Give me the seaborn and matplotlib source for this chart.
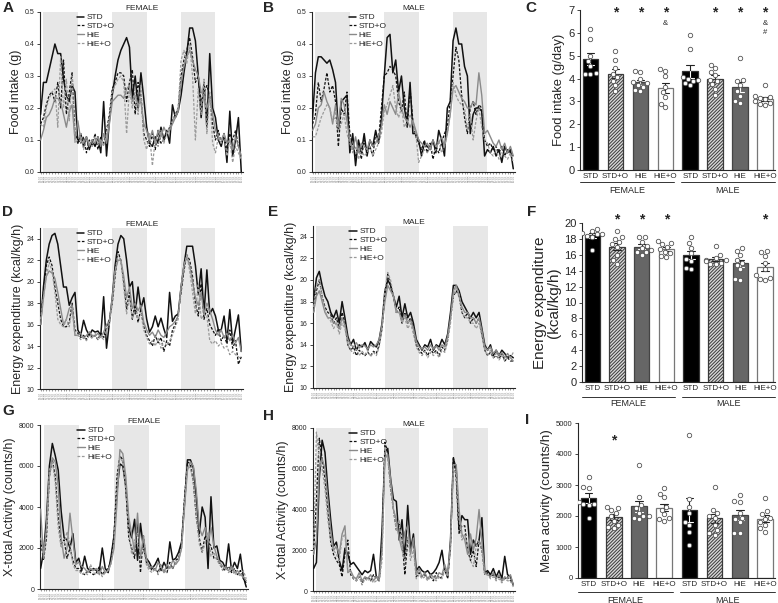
import numpy as np
import pandas as pd
import matplotlib
matplotlib.use("Agg")
import matplotlib.pyplot as plt
import seaborn as sns

# ---------------- data ----------------
groups = ["STD", "STD+O", "HiE", "HiE+O"]
sexes = ["FEMALE", "MALE"]
hours = list(range(71))
hour_labels = [f"{(18 + h) % 24:02d}:00" for h in hours]
dark_phases = [(1, 13), (25, 37), (49, 61)]

# Panel A: female food intake (g)
A_STD = [0.18,
         0.28, 0.28, 0.32, 0.36, 0.40, 0.37, 0.37, 0.29, 0.24, 0.22, 0.27, 0.25,
         0.09, 0.12, 0.08, 0.11, 0.07, 0.10, 0.08, 0.11, 0.06, 0.22, 0.05, 0.16,
         0.24, 0.30, 0.35, 0.38, 0.40, 0.42, 0.39, 0.23, 0.30, 0.20, 0.31, 0.23,
         0.14, 0.09, 0.08, 0.11, 0.09, 0.14, 0.10, 0.13, 0.09, 0.21, 0.17, 0.19,
         0.24, 0.31, 0.37, 0.45, 0.45, 0.41, 0.30, 0.17, 0.28, 0.14, 0.37, 0.20,
         0.17, 0.10, 0.08, 0.12, 0.03, 0.19, 0.05, 0.10, 0.17, 0.00]
A_STDO = [0.15,
          0.17, 0.21, 0.24, 0.25, 0.22, 0.28, 0.20, 0.35, 0.18, 0.25, 0.31, 0.12,
          0.10, 0.09, 0.11, 0.06, 0.10, 0.08, 0.12, 0.07, 0.11, 0.09, 0.13, 0.18,
          0.26, 0.28, 0.31, 0.31, 0.30, 0.22, 0.28, 0.32, 0.18, 0.28, 0.24, 0.12,
          0.10, 0.08, 0.12, 0.07, 0.13, 0.09, 0.10, 0.12, 0.14, 0.16, 0.18, 0.20,
          0.30, 0.35, 0.38, 0.42, 0.36, 0.28, 0.30, 0.22, 0.25, 0.27, 0.24, 0.15,
          0.10, 0.13, 0.09, 0.11, 0.07, 0.12, 0.10, 0.13, 0.08, 0.06]
A_HIE = [0.10,
         0.13, 0.17, 0.18, 0.20, 0.23, 0.23, 0.22, 0.18, 0.14, 0.19, 0.21, 0.10,
         0.16, 0.10, 0.09, 0.11, 0.08, 0.10, 0.09, 0.11, 0.08, 0.12, 0.09, 0.15,
         0.22, 0.23, 0.24, 0.24, 0.23, 0.26, 0.27, 0.22, 0.24, 0.21, 0.22, 0.15,
         0.13, 0.10, 0.13, 0.09, 0.13, 0.11, 0.14, 0.12, 0.13, 0.15, 0.17, 0.19,
         0.28, 0.33, 0.36, 0.38, 0.35, 0.32, 0.30, 0.25, 0.24, 0.20, 0.23, 0.18,
         0.13, 0.11, 0.10, 0.12, 0.09, 0.10, 0.07, 0.11, 0.08, 0.05]
A_HIEO = [0.15,
          0.14, 0.20, 0.23, 0.25, 0.26, 0.14, 0.36, 0.20, 0.29, 0.16, 0.30, 0.09,
          0.10, 0.12, 0.07, 0.10, 0.09, 0.08, 0.11, 0.09, 0.10, 0.08, 0.12, 0.17,
          0.25, 0.27, 0.29, 0.30, 0.28, 0.12, 0.26, 0.20, 0.25, 0.18, 0.27, 0.10,
          0.07, 0.12, 0.02, 0.10, 0.08, 0.13, 0.09, 0.12, 0.14, 0.16, 0.18, 0.20,
          0.35, 0.38, 0.34, 0.40, 0.30, 0.10, 0.26, 0.18, 0.29, 0.12, 0.25, 0.09,
          0.06, 0.11, 0.09, 0.12, 0.05, 0.10, 0.03, 0.08, 0.06, 0.04]

# Panel B: male food intake (g)
B_STD = [0.17,
         0.31, 0.36, 0.36, 0.35, 0.34, 0.35, 0.32, 0.28, 0.13, 0.22, 0.23, 0.24,
         0.06, 0.12, 0.02, 0.10, 0.06, 0.12, 0.05, 0.10, 0.08, 0.13, 0.09, 0.16,
         0.30, 0.42, 0.43, 0.31, 0.35, 0.25, 0.30, 0.20, 0.15, 0.28, 0.12, 0.12,
         0.10, 0.05, 0.09, 0.08, 0.07, 0.10, 0.06, 0.13, 0.10, 0.05, 0.20, 0.22,
         0.41, 0.45, 0.40, 0.40, 0.33, 0.30, 0.12, 0.18, 0.20, 0.20, 0.19, 0.05,
         0.07, 0.06, 0.08, 0.05, 0.07, 0.03, 0.08, 0.06, 0.07, 0.01]
B_STDO = [0.15,
          0.18, 0.28, 0.22, 0.26, 0.31, 0.25, 0.27, 0.22, 0.08, 0.20, 0.18, 0.25,
          0.12, 0.08, 0.05, 0.09, 0.04, 0.10, 0.06, 0.08, 0.05, 0.12, 0.10, 0.20,
          0.30, 0.31, 0.33, 0.32, 0.30, 0.22, 0.19, 0.25, 0.14, 0.26, 0.16, 0.11,
          0.09, 0.07, 0.10, 0.06, 0.09, 0.04, 0.08, 0.06, 0.09, 0.12, 0.14, 0.22,
          0.30, 0.39, 0.35, 0.24, 0.17, 0.12, 0.20, 0.22, 0.18, 0.21, 0.20, 0.10,
          0.08, 0.09, 0.07, 0.08, 0.06, 0.08, 0.05, 0.07, 0.06, 0.05]
B_HIE = [0.13,
         0.15, 0.20, 0.21, 0.25, 0.22, 0.20, 0.15, 0.21, 0.14, 0.23, 0.21, 0.16,
         0.10, 0.07, 0.11, 0.06, 0.09, 0.08, 0.07, 0.10, 0.08, 0.09, 0.11, 0.14,
         0.21, 0.18, 0.22, 0.20, 0.18, 0.25, 0.20, 0.17, 0.16, 0.14, 0.16, 0.13,
         0.10, 0.09, 0.08, 0.09, 0.07, 0.10, 0.08, 0.09, 0.11, 0.08, 0.12, 0.18,
         0.26, 0.27, 0.25, 0.23, 0.22, 0.20, 0.20, 0.22, 0.21, 0.31, 0.24, 0.12,
         0.13, 0.11, 0.09, 0.08, 0.10, 0.07, 0.09, 0.06, 0.08, 0.05]
B_HIEO = [0.11,
          0.11, 0.14, 0.17, 0.19, 0.21, 0.20, 0.16, 0.17, 0.13, 0.15, 0.18, 0.12,
          0.09, 0.06, 0.08, 0.04, 0.07, 0.05, 0.06, 0.08, 0.05, 0.07, 0.09, 0.12,
          0.19, 0.21, 0.24, 0.27, 0.20, 0.17, 0.20, 0.14, 0.16, 0.18, 0.15, 0.12,
          0.03, 0.05, 0.07, 0.06, 0.08, 0.06, 0.07, 0.10, 0.06, 0.08, 0.12, 0.18,
          0.28, 0.24, 0.22, 0.21, 0.20, 0.13, 0.18, 0.10, 0.16, 0.20, 0.14, 0.10,
          0.09, 0.06, 0.05, 0.07, 0.04, 0.06, 0.05, 0.04, 0.06, 0.03]

# Panel D: female energy expenditure (kcal/kg/h)
D_STD = [16.0,
         19.5, 22.0, 23.5, 24.3, 24.5, 23.5, 21.5, 19.5, 19.5, 17.8, 18.5, 19.0,
         15.5, 15.0, 16.4, 15.5, 15.0, 15.5, 15.3, 15.4, 15.0, 18.6, 13.8, 16.2,
         18.5, 21.5, 23.5, 24.3, 24.0, 22.0, 19.5, 20.0, 17.0, 19.5, 17.5, 18.5,
         16.5, 15.3, 15.8, 16.8, 15.8, 16.6, 15.6, 14.8, 19.0, 16.3, 16.8, 17.0,
         19.5, 21.5, 23.3, 23.3, 23.3, 21.5, 18.8, 21.2, 17.0, 21.1, 17.0, 17.5,
         16.8, 15.5, 15.5, 16.8, 14.5, 17.4, 14.3, 15.6, 16.9, 13.5]
D_STDO = [16.5,
          19.0, 21.5, 22.3, 21.5, 19.5, 18.0, 16.5, 15.8, 15.8, 16.2, 18.0, 15.5,
          15.2, 14.8, 15.0, 14.6, 15.3, 14.8, 15.0, 14.6, 15.2, 14.8, 15.8, 16.5,
          18.0, 20.5, 22.8, 22.0, 20.0, 17.5, 19.0, 16.5, 18.0, 16.2, 17.5, 15.8,
          15.0, 14.5, 14.0, 15.0, 14.3, 14.8, 13.5, 14.5, 14.0, 15.5, 16.0, 17.0,
          19.0, 21.0, 22.5, 22.0, 20.5, 18.0, 16.8, 19.8, 16.5, 17.5, 16.0, 15.5,
          15.0, 15.6, 14.5, 15.0, 14.2, 15.5, 13.8, 14.5, 12.3, 13.0]
D_HIE = [16.0,
         18.5, 20.5, 21.0, 20.8, 20.3, 19.0, 17.5, 16.0, 16.5, 17.5, 17.8, 15.0,
         15.0, 15.2, 14.7, 15.0, 15.3, 15.0, 14.9, 15.2, 14.8, 15.3, 16.0, 16.3,
         18.5, 21.0, 22.0, 22.0, 20.5, 18.5, 19.5, 17.5, 18.0, 17.3, 17.8, 16.2,
         15.5, 15.0, 15.3, 14.8, 15.5, 15.0, 14.8, 15.3, 15.8, 16.0, 16.3, 16.8,
         19.5, 21.5, 22.3, 21.5, 20.0, 18.5, 17.8, 19.0, 17.0, 18.0, 17.3, 16.5,
         15.5, 15.0, 15.5, 14.8, 15.2, 14.5, 15.0, 14.3, 14.8, 13.5]
D_HIEO = [16.5,
          18.5, 20.5, 21.8, 21.0, 19.0, 16.5, 16.0, 15.8, 16.5, 15.8, 17.5, 15.0,
          15.0, 14.6, 14.8, 14.5, 15.0, 14.7, 15.2, 14.6, 14.9, 14.6, 15.5, 16.0,
          18.0, 21.0, 22.5, 22.0, 19.5, 17.0, 18.5, 16.5, 17.5, 16.5, 17.0, 15.5,
          14.8, 14.2, 14.5, 14.0, 14.8, 13.8, 14.5, 14.0, 14.5, 15.0, 15.8, 16.5,
          19.5, 21.5, 22.5, 21.0, 19.0, 17.0, 19.8, 16.5, 17.0, 16.8, 14.5, 14.2,
          14.5, 14.0, 14.3, 13.8, 14.0, 13.2, 13.5, 13.2, 13.0, 12.8]

# Panel E: male energy expenditure (kcal/kg/h)
E_STD = [18.0,
         20.2, 20.8, 19.5, 18.5, 18.0, 17.0, 16.5, 17.2, 16.0, 18.0, 16.5, 14.8,
         14.0, 14.5, 13.5, 14.0, 13.8, 14.2, 13.5, 14.3, 14.0, 13.8, 14.5, 16.0,
         19.0, 20.0, 19.5, 18.5, 17.5, 18.5, 16.5, 17.8, 16.5, 17.0, 16.0, 14.5,
         14.0, 13.5, 14.0, 13.8, 14.5, 13.5, 14.0, 13.8, 14.5, 14.0, 15.0, 17.0,
         19.5, 19.5, 19.0, 18.0, 17.5, 17.0, 16.5, 17.0, 16.5, 17.0, 15.5, 14.0,
         13.5, 14.0, 13.0, 13.5, 13.0, 13.5, 13.2, 12.8, 13.0, 12.8]
E_STDO = [17.0,
          19.0, 20.0, 18.5, 17.5, 17.0, 16.8, 16.0, 16.5, 15.5, 17.0, 16.0, 14.0,
          13.5, 13.8, 13.0, 13.5, 13.2, 13.0, 13.3, 13.0, 13.4, 13.2, 14.0, 15.5,
          18.5, 20.5, 19.5, 18.5, 17.0, 17.5, 16.0, 17.0, 16.0, 16.5, 15.5, 14.0,
          13.5, 13.2, 13.5, 13.0, 13.6, 13.2, 13.5, 13.0, 13.8, 13.5, 14.5, 16.5,
          18.5, 19.0, 18.5, 17.0, 16.5, 17.0, 16.0, 16.5, 16.0, 16.5, 15.0, 13.5,
          13.0, 13.3, 12.8, 13.0, 12.7, 13.2, 12.5, 12.8, 12.5, 12.5]
E_HIE = [17.0,
         18.5, 19.0, 18.0, 17.0, 16.5, 16.5, 16.0, 16.0, 15.5, 16.5, 15.8, 14.5,
         14.0, 13.8, 14.2, 13.7, 14.0, 13.9, 13.6, 14.0, 13.8, 14.0, 14.5, 15.8,
         18.0, 19.5, 19.0, 18.5, 17.0, 17.0, 16.3, 16.8, 16.0, 16.3, 15.5, 14.3,
         13.8, 13.6, 13.8, 13.5, 14.0, 13.6, 13.9, 13.5, 14.0, 13.8, 14.8, 16.5,
         19.0, 19.5, 18.5, 17.5, 17.0, 17.0, 16.5, 16.5, 16.0, 16.5, 15.3, 13.8,
         13.5, 13.8, 13.2, 13.5, 13.0, 13.3, 12.8, 13.2, 12.8, 12.5]
E_HIEO = [17.5,
          19.5, 20.0, 18.5, 17.2, 16.5, 16.2, 15.5, 16.0, 15.0, 16.0, 15.5, 14.0,
          13.5, 13.2, 13.6, 13.0, 13.4, 13.1, 13.5, 12.9, 13.3, 13.0, 13.8, 15.5,
          19.0, 20.7, 20.0, 18.5, 17.0, 17.0, 16.0, 16.5, 15.5, 16.0, 15.0, 13.8,
          13.3, 13.0, 13.4, 12.8, 13.3, 13.0, 13.3, 12.8, 13.5, 13.3, 14.3, 16.0,
          18.5, 19.3, 18.8, 17.0, 16.5, 16.5, 16.0, 16.0, 15.5, 16.0, 14.8, 13.5,
          13.0, 13.5, 12.8, 13.2, 12.6, 13.0, 12.5, 12.8, 12.8, 13.3]

# Panel G: female X-total activity (counts/h)
G_STD = [1000,
         1800, 3400, 6000, 7100, 6500, 5800, 3800, 2500, 2400, 2000, 2700, 1300,
         1500, 900, 1600, 1000, 900, 1000, 900, 900, 2000, 1000, 800, 1600,
         2600, 4800, 6100, 6000, 5000, 3000, 2500, 3400, 1400, 3200, 2000, 1500,
         1300, 1000, 1200, 1500, 900, 1300, 1000, 2300, 1400, 1500, 1800, 2300,
         4200, 6300, 6300, 5900, 4500, 2700, 4000, 3500, 1000, 4500, 2000, 2100,
         1400, 1300, 1000, 2200, 900, 1300, 1000, 1700, 600, 100]
G_STDO = [2400,
          1400, 2500, 5500, 6300, 5500, 3500, 2200, 2400, 1500, 2000, 1400, 1000,
          1000, 800, 700, 900, 800, 700, 800, 1100, 700, 900, 1000, 1400,
          2600, 5500, 6500, 6300, 5000, 2500, 2000, 1500, 3200, 800, 2600, 1300,
          1100, 900, 1000, 800, 1200, 900, 800, 1300, 1000, 1400, 1500, 2200,
          4500, 6200, 6100, 5200, 3500, 2500, 1800, 2600, 2300, 2100, 1500, 1500,
          1200, 1000, 900, 1100, 800, 1000, 700, 900, 500, 300]
G_HIE = [3900,
         1500, 3000, 5500, 6400, 6200, 5000, 2500, 1500, 2000, 3700, 2400, 1200,
         1300, 1100, 1000, 800, 1000, 900, 1000, 700, 1100, 800, 900, 1300,
         2000, 4200, 6800, 6600, 5500, 3500, 2700, 1800, 3700, 1500, 2600, 1500,
         1000, 1100, 900, 1300, 1100, 800, 1200, 1000, 1400, 1200, 1400, 2000,
         4000, 5800, 6200, 6000, 4800, 3000, 2600, 3000, 2300, 3000, 2100, 1600,
         1300, 1100, 1000, 900, 1100, 800, 900, 700, 600, 400]
G_HIEO = [2500,
          1700, 2800, 5800, 6200, 5200, 3000, 2000, 2200, 2800, 2200, 1200, 900,
          900, 700, 800, 700, 1200, 800, 700, 900, 600, 800, 900, 1200,
          2300, 5000, 6400, 6200, 4800, 2800, 1700, 2400, 2200, 1800, 2000, 1200,
          900, 800, 1000, 700, 1100, 800, 900, 1100, 1000, 1300, 1400, 2000,
          4200, 6000, 5900, 5200, 3600, 2200, 1800, 2200, 2800, 1600, 1800, 1400,
          1200, 900, 1100, 800, 1000, 700, 800, 600, 900, 500]

# Panel H: male X-total activity (counts/h)
H_STD = [1100,
         1400, 5500, 7400, 6800, 5000, 3500, 2200, 2400, 1500, 1000, 2100, 1800,
         1300, 1400, 1200, 1000, 800, 1000, 900, 1000, 1800, 700, 600, 3000,
         6800, 7000, 5500, 4500, 4400, 2500, 3500, 1500, 4200, 2000, 2800, 1000,
         1200, 1000, 900, 1000, 800, 900, 1100, 1400, 2000, 1000, 700, 2500,
         6500, 6000, 3000, 3700, 3500, 3500, 1800, 2500, 2200, 2500, 3600, 900,
         1000, 800, 1100, 700, 1000, 600, 1700, 800, 700, 300]
H_STDO = [1800,
          4500, 7500, 6500, 5500, 4000, 2400, 1800, 1500, 1300, 700, 1800, 2500,
          800, 600, 500, 700, 400, 600, 700, 500, 800, 600, 500, 2200,
          7300, 6800, 5000, 4000, 3000, 3300, 2500, 800, 2500, 2200, 2500, 700,
          900, 700, 800, 600, 700, 500, 900, 600, 700, 1200, 600, 2200,
          6600, 5500, 2800, 3200, 3200, 2000, 1500, 2000, 1200, 2500, 2000, 800,
          900, 700, 800, 600, 700, 500, 600, 700, 500, 300]
H_HIE = [1800,
         2500, 6000, 6500, 6000, 4500, 3000, 2000, 2200, 1800, 2800, 3200, 900,
         1000, 700, 600, 900, 500, 700, 600, 800, 500, 700, 600, 2000,
         6500, 6700, 5500, 4000, 3500, 2600, 2000, 2900, 3200, 1800, 2600, 800,
         1100, 700, 900, 600, 800, 700, 600, 900, 800, 1300, 800, 2400,
         6200, 6200, 4000, 2800, 2500, 1800, 2800, 2000, 2600, 4000, 2400, 900,
         800, 700, 900, 600, 800, 500, 700, 600, 800, 300]
H_HIEO = [1900,
          7800, 6500, 6000, 5000, 3500, 2500, 2000, 1800, 1500, 2600, 2800, 1000,
          900, 600, 500, 700, 300, 600, 500, 600, 400, 500, 500, 1500,
          7000, 6500, 5000, 4000, 3000, 3500, 2000, 1500, 2700, 1500, 2000, 600,
          800, 600, 700, 500, 700, 600, 500, 700, 600, 1000, 700, 2000,
          6000, 5800, 3500, 2500, 2800, 2200, 1500, 1200, 2200, 2500, 2000, 800,
          800, 600, 700, 500, 600, 400, 600, 500, 500, 200]

# Panel C: daily food intake (g/day), individual animals
C_FEMALE = [[6.15, 5.75, 5.0, 4.75, 4.55, 4.25, 4.2, 4.2],
            [5.2, 4.8, 4.45, 4.2, 4.05, 3.9, 3.7, 3.45],
            [4.35, 4.28, 4.0, 3.85, 3.8, 3.7, 3.65, 3.5, 3.45],
            [4.42, 4.35, 4.1, 3.65, 3.4, 3.2, 2.9, 2.75]]
C_MALE = [[5.9, 5.3, 4.05, 4.0, 3.95, 3.9, 3.8, 3.7],
          [4.6, 4.45, 4.3, 4.15, 3.95, 3.9, 3.75, 3.55, 3.3],
          [4.9, 3.95, 3.9, 3.7, 3.45, 3.25, 3.0, 2.95],
          [3.7, 3.25, 3.2, 3.15, 3.1, 3.0, 2.95, 2.9, 2.85]]
C_SIG = ["", "*", "*", "*\n&", "", "*", "*", "*\n&\n#"]

# Panel F: energy expenditure (kcal/kg/h)
F_FEMALE = [[19.3, 19.0, 18.8, 18.6, 18.6, 18.4, 18.3, 16.6],
            [19.0, 18.2, 18.0, 17.6, 17.3, 17.0, 16.0, 15.3, 14.8],
            [18.3, 18.2, 17.6, 17.1, 16.8, 16.6, 16.4, 16.3, 16.0],
            [17.7, 17.5, 17.3, 17.0, 16.7, 16.4, 16.2, 15.9, 15.7]]
F_MALE = [[18.2, 17.5, 16.9, 16.2, 15.5, 15.2, 14.3, 14.2],
          [17.1, 16.0, 15.6, 15.4, 15.3, 15.2, 15.0, 14.9, 14.8],
          [16.8, 16.5, 16.0, 15.4, 15.0, 14.7, 14.2, 13.0, 12.8],
          [16.5, 16.3, 15.8, 15.0, 14.2, 13.4, 13.1, 12.9, 12.8]]
F_SIG = ["", "*", "*", "*", "", "", "", "*"]

# Panel I: mean activity (counts/h)
I_FEMALE = [[3250, 2950, 2900, 2450, 2400, 2400, 2350, 1950],
            [2300, 2250, 2200, 2100, 2000, 1850, 1700, 1650, 1600],
            [3650, 2600, 2350, 2250, 2100, 2000, 2000, 1950, 1900],
            [2900, 2700, 2600, 2300, 2200, 2050, 1900, 1850, 1950]]
I_MALE = [[4620, 2550, 2300, 2100, 1800, 1700, 1500, 1050],
          [2930, 2200, 2100, 2000, 1950, 1700, 1550, 1450, 1400],
          [2680, 2500, 2450, 2100, 1950, 1800, 1450, 1450, 1900],
          [2580, 2150, 2050, 1950, 1900, 1800, 1700, 1600, 1500]]
I_SIG = ["", "*", "", "", "", "", "", ""]

# ---------------- style ----------------
sns.set_style("ticks")
plt.rcParams["font.family"] = ["Liberation Sans", "DejaVu Sans"]
plt.rcParams["axes.linewidth"] = 0.8
plt.rcParams["hatch.linewidth"] = 0.7

line_styles = {
    "STD": dict(color="#111111", lw=1.1, ls="-"),
    "STD+O": dict(color="#111111", lw=0.9, ls=(0, (2.2, 1.3))),
    "HiE": dict(color="#8a8a8a", lw=1.0, ls="-"),
    "HiE+O": dict(color="#9a9a9a", lw=0.9, ls=(0, (2.2, 1.3))),
}
bar_fill = {"STD": "#000000", "STD+O": "#d8d8d8", "HiE": "#666666", "HiE+O": "#ffffff"}
bar_edge = {"STD": "#333333", "STD+O": "#555555", "HiE": "#444444", "HiE+O": "#777777"}

fig = plt.figure(figsize=(7.78, 6.03), dpi=100)


def line_panel(rect, series, title, ylabel, ylim, yticks, yfmt, letter, letter_xy):
    ax = fig.add_axes(rect)
    for a, b in dark_phases:
        ax.axvspan(a, b, color="#e7e7e7", lw=0, zorder=0)
    for g, vals in zip(groups, series):
        st = line_styles[g]
        sns.lineplot(x=hours, y=vals, ax=ax, color=st["color"], linewidth=st["lw"],
                     linestyle=st["ls"], label=g, legend=False, zorder=3)
    ax.set_xlim(-0.2, 70.6)
    ax.set_ylim(*ylim)
    ax.set_yticks(yticks)
    ax.set_yticklabels([yfmt.format(v) for v in yticks], fontsize=5)
    ax.set_xticks(hours)
    ax.set_xticklabels(hour_labels, rotation=90, fontsize=2.0, color="#888888")
    ax.tick_params(axis="x", length=1.5, width=0.4, pad=0.5, color="#555555")
    ax.tick_params(axis="y", length=2.5, width=0.6, pad=1.5)
    ax.set_ylabel(ylabel, fontsize=9, labelpad=2)
    ax.set_title(title, fontsize=6, pad=1.5)
    sns.despine(ax=ax)
    ax.legend(loc="upper left", bbox_to_anchor=(0.18, 0.99), frameon=False,
              fontsize=6, handlelength=0.9, handletextpad=0.3,
              labelspacing=0.12, borderaxespad=0, borderpad=0)
    fig.text(letter_xy[0], letter_xy[1], letter, fontsize=11, fontweight="bold",
             va="top", ha="left")
    return ax


def bar_panel(rect, female, male, sig, sig_y, ylabel, ylim, yticks, ytick_fs,
              ylabel_fs, letter, letter_xy, line_y, text_y):
    ax = fig.add_axes(rect)
    cats = [f"{s}|{g}" for s in sexes for g in groups]
    all_vals = female + male
    rows = [(c, v) for c, vals in zip(cats, all_vals) for v in vals]
    df = pd.DataFrame(rows, columns=["cat", "value"])
    pal = {c: bar_fill[c.split("|")[1]] for c in cats}
    sns.barplot(data=df, x="cat", y="value", hue="cat", order=cats, hue_order=cats,
                palette=pal, errorbar=None, width=0.62, legend=False, ax=ax,
                linewidth=0.9, zorder=2)
    patches = sorted(ax.patches, key=lambda p: p.get_x())
    for i, p in enumerate(patches):
        g = groups[i % 4]
        p.set_edgecolor(bar_edge[g])
        p.set_linewidth(0.9)
        if g == "STD+O":
            p.set_hatch("//////////")
            p.set_edgecolor("#3a3a3a")
    # error bars (mean +/- SEM)
    for i, vals in enumerate(all_vals):
        arr = np.asarray(vals, dtype=float)
        m = arr.mean()
        se = arr.std(ddof=1) / np.sqrt(len(arr))
        g = groups[i % 4]
        low_col = "white" if g in ("STD", "HiE") else "#222222"
        ax.plot([i, i], [m, m + se], color="#222222", lw=0.8, zorder=4)
        ax.plot([i - 0.15, i + 0.15], [m + se, m + se], color="#222222", lw=0.8, zorder=4)
        ax.plot([i, i], [m - se, m], color=low_col, lw=0.8, zorder=4)
        ax.plot([i - 0.15, i + 0.15], [m - se, m - se], color=low_col, lw=0.8, zorder=4)
    sns.swarmplot(data=df, x="cat", y="value", order=cats, color="white",
                  edgecolor="#555555", linewidth=0.6, size=3.2, ax=ax, zorder=5)
    for i, s in enumerate(sig):
        if s:
            parts = s.split("\n")
            ax.text(i, sig_y[0], parts[0], ha="center", va="center", fontsize=10,
                    fontweight="bold", zorder=6, clip_on=False)
            for k, ptxt in enumerate(parts[1:]):
                ax.text(i, sig_y[1] - k * sig_y[2], ptxt, ha="center", va="center",
                        fontsize=5.5, zorder=6, clip_on=False)
    ax.set_xlim(-0.42, 7.4)
    ax.set_ylim(*ylim)
    ax.set_yticks(yticks)
    ax.set_yticklabels([str(v) for v in yticks], fontsize=ytick_fs)
    ax.set_xticks(range(8))
    ax.set_xticklabels(groups * 2, fontsize=5.8)
    ax.tick_params(axis="x", length=0, pad=2)
    ax.tick_params(axis="y", length=2.5, width=0.6, pad=1.5)
    ax.set_xlabel("")
    ax.set_ylabel(ylabel, fontsize=ylabel_fs, labelpad=2, linespacing=1.0)
    sns.despine(ax=ax)
    trans = ax.get_xaxis_transform()
    for (x0, x1), lab in zip([(-0.42, 3.35), (3.62, 7.4)], sexes):
        ax.plot([x0, x1], [line_y, line_y], color="#333333", lw=0.7,
                transform=trans, clip_on=False)
        ax.text((x0 + x1) / 2, text_y, lab, transform=trans, ha="center",
                va="center", fontsize=6.5)
    fig.text(letter_xy[0], letter_xy[1], letter, fontsize=11, fontweight="bold",
             va="top", ha="left")
    return ax


W, H = 778.0, 603.0


def rect(l, t, r, b):
    return [l / W, 1 - b / H, (r - l) / W, (b - t) / H]


# Row 1
line_panel(rect(40, 12, 243, 172), [A_STD, A_STDO, A_HIE, A_HIEO], "FEMALE",
           "Food intake (g)", (0, 0.5), [0.0, 0.1, 0.2, 0.3, 0.4, 0.5], "{:.1f}",
           "A", (0.003, 0.998))
line_panel(rect(312, 12, 515, 172), [B_STD, B_STDO, B_HIE, B_HIEO], "MALE",
           "Food intake (g)", (0, 0.5), [0.0, 0.1, 0.2, 0.3, 0.4, 0.5], "{:.1f}",
           "B", (0.338, 0.998))
bar_panel(rect(580, 10, 775, 170), C_FEMALE, C_MALE, C_SIG, (6.88, 6.42, 0.42),
          "Food intake (g/day)", (0, 7), list(range(0, 8)), 8, 9.4,
          "C", (0.675, 0.998), -0.075, -0.125)

# Row 2
line_panel(rect(40, 228, 243, 389), [D_STD, D_STDO, D_HIE, D_HIEO], "FEMALE",
           "Energy expenditure (kcal/kg/h)", (10, 25), list(range(10, 25, 2)), "{:d}",
           "D", (0.003, 0.66))
line_panel(rect(313, 226, 515, 388), [E_STD, E_STDO, E_HIE, E_HIEO], "MALE",
           "Energy expenditure (kcal/kg/h)", (10, 25), list(range(10, 25, 2)), "{:d}",
           "E", (0.345, 0.66))
bar_panel(rect(582, 223, 775, 382), F_FEMALE, F_MALE, F_SIG, (20.4, 19.5, 1.0),
          "Energy expenditure\n(kcal/kg/h)", (0, 20), list(range(0, 21, 2)), 8, 11,
          "F", (0.677, 0.66), -0.094, -0.135)

# Row 3
line_panel(rect(40, 425, 248, 589), [G_STD, G_STDO, G_HIE, G_HIEO], "FEMALE",
           "X-total Activity (counts/h)", (0, 8000), [0, 2000, 4000, 6000, 8000], "{:d}",
           "G", (0.003, 0.33))
line_panel(rect(313, 428, 515, 591), [H_STD, H_STDO, H_HIE, H_HIEO], "MALE",
           "X-total Activity (counts/h)", (0, 8000), [0, 2000, 4000, 6000, 8000], "{:d}",
           "H", (0.338, 0.322))
bar_panel(rect(578, 423, 775, 578), I_FEMALE, I_MALE, I_SIG, (4450, 4000, 300),
          "Mean activity (counts/h)", (0, 5000), [0, 1000, 2000, 3000, 4000, 5000],
          5.5, 9.7, "I", (0.675, 0.315), -0.09, -0.142)

fig.savefig("out.png", dpi=100)
